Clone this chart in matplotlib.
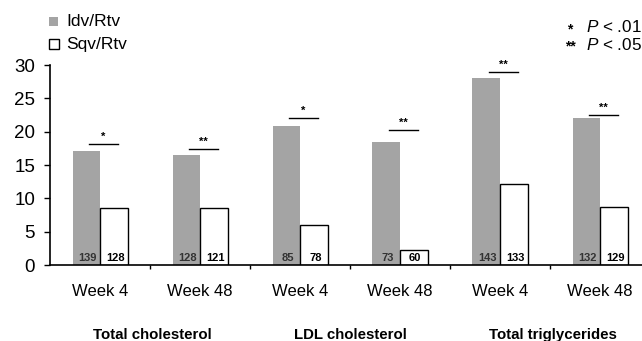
import matplotlib
matplotlib.use("Agg")
import matplotlib.pyplot as plt
from matplotlib.patches import Rectangle
import numpy as np

plt.rcParams['font.family'] = ['Liberation Sans', 'DejaVu Sans']
plt.rcParams['mathtext.fontset'] = 'custom'
plt.rcParams['mathtext.rm'] = 'Liberation Sans'
plt.rcParams['mathtext.it'] = 'Liberation Sans:italic'

# data
weeks = ['Week 4', 'Week 48', 'Week 4', 'Week 48', 'Week 4', 'Week 48']
groups = ['Total cholesterol', 'LDL cholesterol', 'Total triglycerides']
idv_rtv = [17.1, 16.5, 20.9, 18.4, 28.0, 22.0]
sqv_rtv = [8.55, 8.55, 6.0, 2.25, 12.15, 8.7]
n_idv = [139, 128, 85, 73, 143, 132]
n_sqv = [128, 121, 78, 60, 133, 129]
sig = ['*', '**', '*', '**', '**', '**']
sig_y = [18.15, 17.4, 22.05, 20.25, 28.95, 22.5]

W, H = 642, 341
fig = plt.figure(figsize=(W / 100, H / 100), dpi=100)
ax = fig.add_axes([50 / W, 76 / H, 592 / W, 200 / H])

x = np.arange(len(weeks))
bw = 0.275
gray = '#a4a4a4'
ax.bar(x - bw / 2, idv_rtv, bw, color=gray, edgecolor='none')
ax.bar(x + bw / 2, sqv_rtv, bw, color='white', edgecolor='black', linewidth=1.0)

for i in range(len(x)):
    ax.text(x[i] - bw / 2 + 0.015, 1.05, str(n_idv[i]), ha='center', va='center',
            fontsize=8, fontweight='bold', color='#333333')
    ax.text(x[i] + bw / 2 + 0.015, 1.05, str(n_sqv[i]), ha='center', va='center',
            fontsize=8, fontweight='bold', color='black')
    ax.plot([x[i] - 0.11, x[i] + 0.18], [sig_y[i], sig_y[i]], color='black',
            linewidth=1.0, clip_on=False)
    ax.annotate(sig[i], (x[i] + 0.035, sig_y[i]), xytext=(0, 1.5),
                textcoords='offset points', ha='center', va='bottom',
                fontsize=8, fontweight='bold', annotation_clip=False)

ax.set_xlim(-0.5, 5.42)
ax.set_ylim(0, 30)
ax.set_yticks([0, 5, 10, 15, 20, 25, 30])
ax.set_xticks(x[:-1] + 0.5)
ax.set_xticklabels([])
for s in ['top', 'right']:
    ax.spines[s].set_visible(False)
for s in ['left', 'bottom']:
    ax.spines[s].set_linewidth(1.2)
ax.tick_params(axis='y', length=4.3, width=1.0, pad=6.5, labelsize=13.5)
ax.tick_params(axis='x', length=3, width=1.0)


def ax_y(py):
    # pixel row in the figure -> axes fraction
    return (H - py - 76) / 200


for i, w in enumerate(weeks):
    ax.text(x[i], ax_y(292), w, transform=ax.get_xaxis_transform(),
            ha='center', va='center', fontsize=12)
for i, g in enumerate(groups):
    ax.text([0.52, 2.5, 4.53][i], ax_y(335), g, transform=ax.get_xaxis_transform(),
            ha='center', va='center', fontsize=10.8, fontweight='bold')

# legend
fig.patches.append(Rectangle((48.5 / W, 1 - 26 / H), 9 / W, 9 / H, transform=fig.transFigure,
                             facecolor=gray, edgecolor='none'))
fig.patches.append(Rectangle((48.5 / W, 1 - 49 / H), 10 / W, 10 / H, transform=fig.transFigure,
                             facecolor='white', edgecolor='black', linewidth=1.0))
fig.text(66 / W, 1 - 22 / H, 'Idv/Rtv', ha='left', va='center', fontsize=12.5)
fig.text(66 / W, 1 - 44 / H, 'Sqv/Rtv', ha='left', va='center', fontsize=12.5)

fig.text(567 / W, 1 - 29 / H, '*', ha='left', va='center', fontsize=10, fontweight='bold')
fig.text(565 / W, 1 - 46 / H, '**', ha='left', va='center', fontsize=10, fontweight='bold')
fig.text(586 / W, 1 - 27 / H, r'$\mathit{P}$ < .01', ha='left', va='center', fontsize=12.3)
fig.text(586 / W, 1 - 45 / H, r'$\mathit{P}$ < .05', ha='left', va='center', fontsize=12.3)

fig.savefig('out.png', dpi=100)
